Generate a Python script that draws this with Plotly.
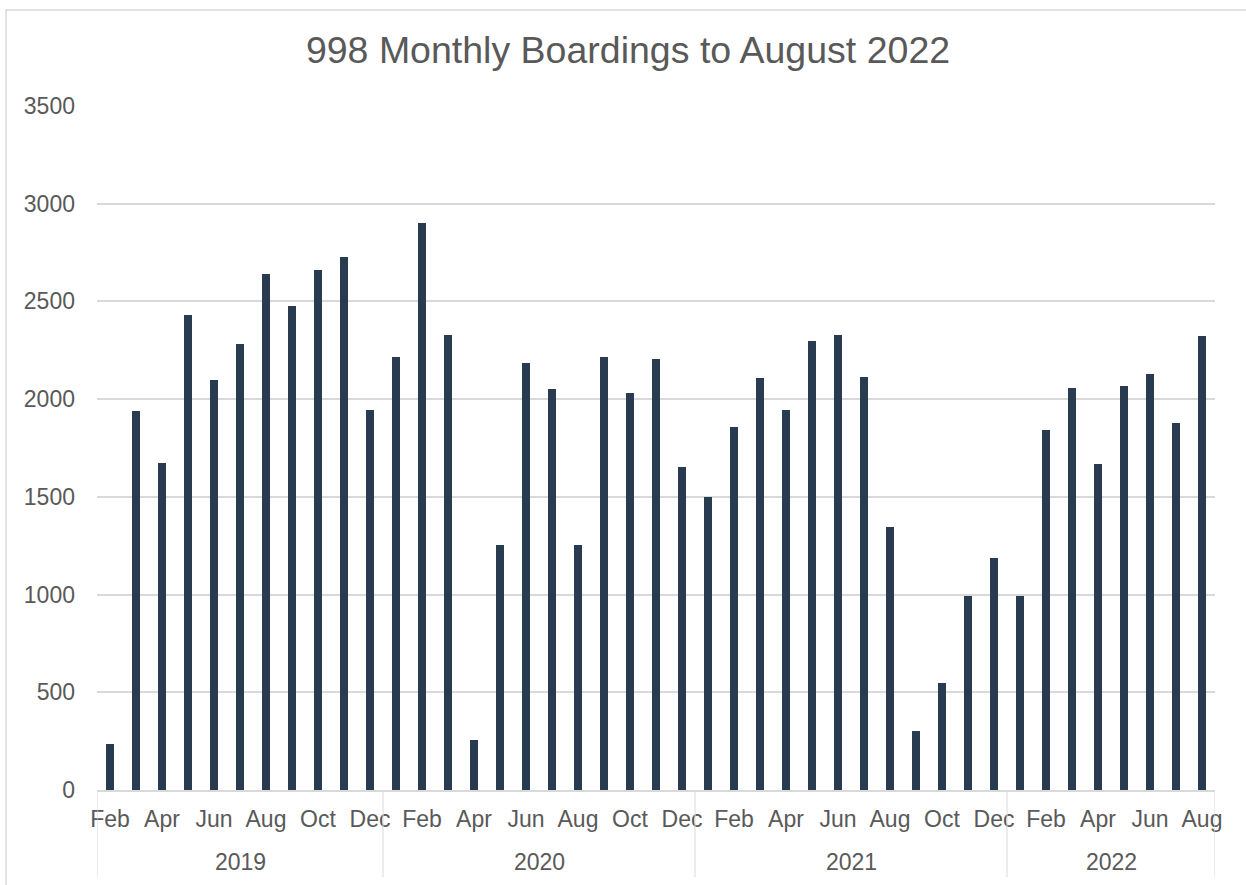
import plotly.graph_objects as go

# ---- data ----
year_labels = ["2019", "2020", "2021", "2022"]
months_2019 = ["Feb", "Mar", "Apr", "May", "Jun", "Jul", "Aug", "Sep", "Oct", "Nov", "Dec"]
months_2020 = ["Jan", "Feb", "Mar", "Apr", "May", "Jun", "Jul", "Aug", "Sep", "Oct", "Nov", "Dec"]
months_2021 = ["Jan", "Feb", "Mar", "Apr", "May", "Jun", "Jul", "Aug", "Sep", "Oct", "Nov", "Dec"]
months_2022 = ["Jan", "Feb", "Mar", "Apr", "May", "Jun", "Jul", "Aug"]

boardings_2019 = [233, 1940, 1674, 2432, 2099, 2282, 2638, 2478, 2662, 2727, 1945]
boardings_2020 = [2216, 2901, 2326, 254, 1253, 2184, 2053, 1253, 2215, 2032, 2206, 1654]
boardings_2021 = [1497, 1858, 2106, 1942, 2295, 2328, 2113, 1346, 304, 546, 993, 1186]
boardings_2022 = [995, 1841, 2055, 1669, 2067, 2128, 1877, 2324]

shown_months = ["Feb", "Apr", "Jun", "Aug", "Oct", "Dec"]
y_ticks = [0, 500, 1000, 1500, 2000, 2500, 3000, 3500]

title_text = "998 Monthly Boardings to August 2022"

# ---- build ----
groups = [months_2019, months_2020, months_2021, months_2022]
values_groups = [boardings_2019, boardings_2020, boardings_2021, boardings_2022]
months = [m for g in groups for m in g]
values = [v for g in values_groups for v in g]
xs = list(range(len(values)))

tickvals = [i for i, m in enumerate(months) if m in shown_months]
ticktext = [months[i] for i in tickvals]

TEXT = "#595959"
GRID = "#D9D9D9"
BAR = "#283B51"
FONT = "Liberation Sans, Arial, sans-serif"

fig = go.Figure()
fig.add_trace(go.Bar(x=xs, y=values, width=0.32,
                     marker=dict(color=BAR, line=dict(width=0)),
                     showlegend=False))

# group boundaries and year label positions
bounds = [-0.5]
start = 0
centers = []
for g in groups:
    end = start + len(g) - 1
    centers.append((start + end) / 2)
    bounds.append(end + 0.5)
    start = end + 1

H_PLOT = 885 - 106 - 95
div_bottom = -(877 - 790) / H_PLOT
shapes = []
for b in bounds:
    shapes.append(dict(type="line", xref="x", yref="paper", x0=b, x1=b,
                       y0=0, y1=div_bottom, line=dict(color=GRID, width=1)))
# chart border
W_PLOT = 1215 - 97
shapes.append(dict(type="rect", xref="paper", yref="paper",
                   x0=(6 - 97) / W_PLOT, x1=(1252 - 97) / W_PLOT,
                   y0=-(895 - 790) / H_PLOT, y1=(790 - 10) / H_PLOT,
                   line=dict(color=GRID, width=1.5), fillcolor="rgba(0,0,0,0)",
                   layer="below"))

annotations = []
for yl, c in zip(year_labels, centers):
    annotations.append(dict(x=c, xref="x", y=-(862 - 790) / H_PLOT, yref="paper",
                            text=yl, showarrow=False, xanchor="center", yanchor="middle",
                            font=dict(family=FONT, size=23, color=TEXT)))

fig.update_layout(
    width=1246, height=885,
    margin=dict(l=97, r=31, t=106, b=95, pad=0),
    paper_bgcolor="white", plot_bgcolor="white",
    title=dict(text=title_text, x=628 / 1246, xref="container", xanchor="center",
               y=1 - 50 / 885, yref="container", yanchor="middle",
               font=dict(family=FONT, size=37.5, color=TEXT)),
    font=dict(family=FONT, color=TEXT),
    bargap=0,
    shapes=shapes,
    annotations=annotations,
)
fig.update_xaxes(range=[-0.5, len(values) - 0.5], tickvals=tickvals, ticktext=ticktext,
                 tickfont=dict(family=FONT, size=23, color=TEXT), ticks="",
                 ticklabelstandoff=8,
                 showgrid=False, showline=True, linecolor=GRID, linewidth=1.5,
                 zeroline=False, fixedrange=True)
fig.update_yaxes(range=[0, 3500], tickvals=y_ticks, ticks="",
                 tickfont=dict(family=FONT, size=23, color=TEXT),
                 ticklabelstandoff=21,
                 showgrid=True, gridcolor=GRID, gridwidth=1.5,
                 zeroline=False, showline=False, fixedrange=True)

fig.write_html("out.html",
               config={"displayModeBar": False},
               post_script="document.body.style.margin='0';document.body.style.overflow='hidden';")
